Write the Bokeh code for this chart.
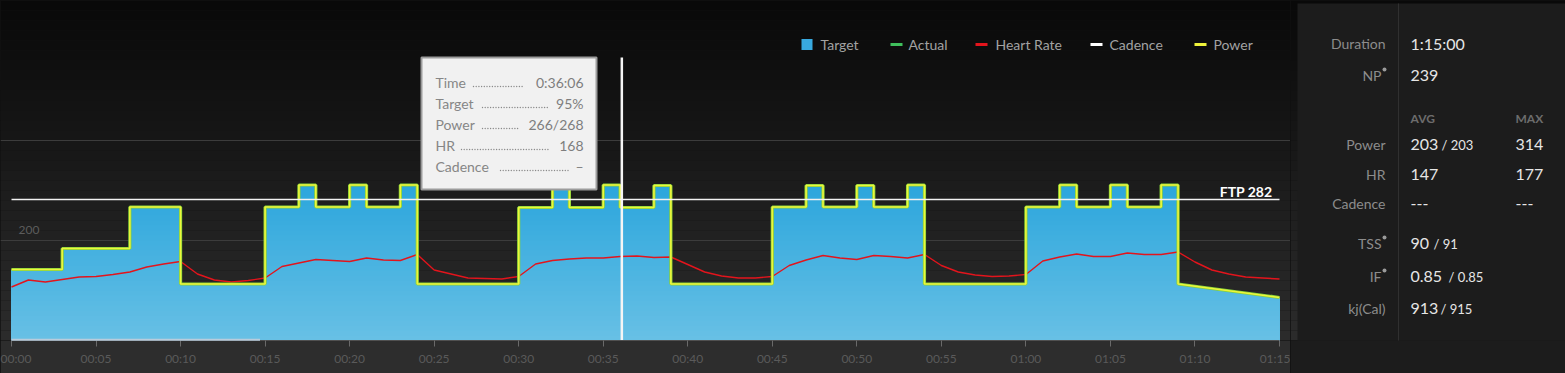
import numpy as np
from bokeh.plotting import figure
from bokeh.models import Range1d, FixedTicker, Grid
from bokeh.layouts import row
from bokeh.core.properties import value
from bokeh.embed import file_html
from bokeh.resources import INLINE

# ---------------- data ----------------
ftp = 282
seg_start = [0, 3, 7, 10,
             15, 17, 18, 20, 21, 23, 24,
             30, 32, 33, 35, 36, 38, 39,
             45, 47, 48, 50, 51, 53, 54,
             60, 62, 63, 65, 66, 68, 69]
seg_end = seg_start[1:] + [75]
target_pct_start = [50, 65, 95, 40,
                    95, 110, 95, 110, 95, 110, 40,
                    95, 110, 95, 110, 95, 110, 40,
                    95, 110, 95, 110, 95, 110, 40,
                    95, 110, 95, 110, 95, 110, 40]
target_pct_end = target_pct_start[:-1] + [30]
power_start = [142, 184, 267, 113,
               267, 311, 267, 311, 267, 311, 113,
               266, 310, 266, 311, 266, 310, 113,
               267, 310, 267, 310, 267, 311, 113,
               267, 311, 267, 311, 267, 311, 113]
power_end = power_start[:-1] + [86]
hr_time = list(range(76))
hr_bpm = [107, 121, 117, 122, 127, 128, 132, 137, 147, 153,
          158, 133, 121, 117, 120, 125, 148, 155, 162, 160,
          158, 165, 161, 160, 172, 141, 133, 125, 124, 123,
          128, 153, 160, 163, 165, 165, 168, 169, 166, 167,
          152, 137, 129, 125, 125, 128, 150, 161, 170, 165,
          162, 170, 168, 165, 172, 150, 137, 131, 128, 129,
          132, 159, 167, 173, 168, 168, 175, 172, 172, 177,
          157, 141, 133, 127, 125, 123]
tick_min = [0, 5, 10, 15, 20, 25, 30, 35, 40, 45, 50, 55, 60, 65, 70, 75]
tick_labels = ["00:00", "00:05", "00:10", "00:15", "00:20", "00:25", "00:30", "00:35",
               "00:40", "00:45", "00:50", "00:55", "01:00", "01:05", "01:10", "01:15"]
grid_watts = [200, 400]
progress_end = 14.7
cursor_time = 36.1
tip_names = ["Time", "Target", "Power", "HR", "Cadence"]
tip_values = ["0:36:06", "95%", "266/268", "168", "–"]
legend_names = ["Target", "Actual", "Heart Rate", "Cadence", "Power"]
legend_colors = ["#38a9df", "#3fbf5c", "#e3141c", "#ffffff", "#eef23a"]

stat_labels = ["Duration", "NP", "Power", "HR", "Cadence", "TSS", "IF", "kj(Cal)"]
stat_main = ["1:15:00", "239", "203", "147", "---", "90", "0.85", "913"]
stat_second = ["", "", "/ 203", "", "", "/ 91", "/ 0.85", "/ 915"]
stat_max = ["", "", "314", "177", "---", "", "", ""]
stat_dot = [False, True, False, False, False, True, True, False]

# ---------------- helpers (pixel -> data for decorations) ----------------
PPM = 1268 / 75.0


def X(px):
    return (px - 11) / PPM


def Y(py):
    return (340 - py) * 2.0


def lerp(c0, c1, f):
    a = [int(c0[i:i + 2], 16) for i in (1, 3, 5)]
    b = [int(c1[i:i + 2], 16) for i in (1, 3, 5)]
    return "#%02x%02x%02x" % tuple(int(round(a[k] + (b[k] - a[k]) * f)) for k in range(3))


FONT = value("Lato")

p = figure(width=1290, height=373, x_range=Range1d(X(0), X(1290)), y_range=Range1d(0, 680),
           output_backend="svg", toolbar_location=None, y_axis_location=None,
           x_axis_location="below", min_border_left=0, min_border_right=0,
           min_border_top=0, min_border_bottom=33, background_fill_color="#151515",
           border_fill_color="#2d2d2d", outline_line_color=None)
p.xgrid.visible = False
p.ygrid.visible = False

# background gradient
edges = np.arange(0, 341, 10)
bg_cols = [lerp("#080808", "#2c2c2c", (e + 5) / 340) for e in edges[:-1]]
p.quad(left=X(0), right=X(1290), top=[Y(e) for e in edges[:-1]],
       bottom=[Y(e) for e in edges[1:]], fill_color=bg_cols, line_color=None, level="image")

# grid
p.add_layout(Grid(dimension=1, ticker=FixedTicker(ticks=grid_watts), bounds=(0, 75),
                  grid_line_color="#3c3c3c", grid_line_width=1))

# target area (gradient bands)
tx, tw = [], []
for s, e, a, b in zip(seg_start, seg_end, target_pct_start, target_pct_end):
    tx.append(np.linspace(s, e, 30))
    tw.append(np.linspace(ftp * a / 100.0, ftp * b / 100.0, 30))
tx = np.concatenate(tx)
tw = np.round(np.concatenate(tw))
for hi in range(330, 0, -10):
    col = lerp("#68c0e5", "#29a5dc", min((hi - 5) / 320.0, 1.0))
    p.varea(x=tx, y1=0, y2=np.minimum(tw, hi), fill_color=col)

# heart rate
p.line(hr_time, hr_bpm, line_color="#e3141c", line_width=1.4)

# power line (actual + power)
px_, pw_ = [], []
for s, e, a, b in zip(seg_start, seg_end, power_start, power_end):
    px_ += [s, e]
    pw_ += [a, b]
p.line(px_, pw_, line_color="#86d23a", line_width=3.2)
p.line(px_, pw_, line_color="#eef53c", line_width=1.6)

# FTP line
p.segment(x0=[0], y0=[ftp], x1=[75], y1=[ftp], line_color="#f2f2f2", line_width=1.6)
p.text(x=[X(1272)], y=[Y(191)], text=["FTP %d" % ftp], text_font=FONT,
       text_font_style="bold", text_font_size="14px", text_color="#ffffff",
       text_align="right", text_baseline="middle")

# y label
p.text(x=[X(18)], y=[Y(229)], text=["200"], text_font=FONT, text_font_size="12px",
       text_color="#5c5c5c", text_align="left", text_baseline="middle")

# progress bar
p.segment(x0=[0], y0=[1.5], x1=[progress_end], y1=[1.5], line_color="#b9ccdc",
          line_width=2, level="overlay")

# x axis
ax = p.xaxis[0]
ax.ticker = FixedTicker(ticks=tick_min)
ax.major_label_overrides = {t: l for t, l in zip(tick_min, tick_labels)}
ax.bounds = (0, 75)
ax.axis_line_color = "#505050"
ax.major_tick_line_color = "#6a6a6a"
ax.major_tick_out = 6
ax.major_tick_in = 0
ax.minor_tick_line_color = None
ax.major_label_text_color = "#5a5a5a"
ax.major_label_text_font = "Lato"
ax.major_label_text_font_size = "12px"
ax.major_label_standoff = 4

# cursor
p.segment(x0=[cursor_time], y0=[0], x1=[cursor_time], y1=[Y(57)], line_color="#f5f5f5",
          line_width=2.5)

# tooltip
p.quad(left=[X(421)], right=[X(596)], top=[Y(57)], bottom=[Y(189)], fill_color="#f1f1f1",
       line_color="#9c9c9c", line_width=2)
row_y = [82, 103, 124, 145, 166]
dot_span = [(473, 524), (482, 548), (482, 519), (461, 549), (500, 568)]
p.text(x=[X(435)] * 5, y=[Y(v) for v in row_y], text=tip_names, text_font=FONT,
       text_font_size="14px", text_color="#868686", text_align="left", text_baseline="middle")
p.text(x=[X(583)] * 5, y=[Y(v) for v in row_y], text=tip_values, text_font=FONT,
       text_font_size="14px", text_color="#7e7e7e", text_align="right", text_baseline="middle")
dx, dy = [], []
for (a, b), ry in zip(dot_span, row_y):
    for qq in np.arange(a, b, 2.7):
        dx.append(X(qq))
        dy.append(Y(ry + 4))
p.scatter(dx, dy, marker="circle", size=1.4, fill_color="#8a8a8a", line_color=None)

# legend
leg_glyph_x = [801, 890, 975, 1090, 1194]
leg_text_x = [820, 908, 995, 1109, 1213]
p.scatter([X(806.5)], [Y(44)], marker="square", size=11, fill_color=legend_colors[0],
          line_color=None)
for gx, c in zip(leg_glyph_x[1:], legend_colors[1:]):
    p.segment(x0=[X(gx)], y0=[Y(44)], x1=[X(gx + 12)], y1=[Y(44)], line_color=c, line_width=3)
p.text(x=[X(v) for v in leg_text_x], y=[Y(44)] * 5, text=legend_names, text_font=FONT,
       text_font_size="14px", text_color="#a2a2a2", text_align="left", text_baseline="middle")

# ---------------- right panel ----------------
q = figure(width=275, height=373, x_range=Range1d(1290, 1565), y_range=Range1d(340, 0),
           output_backend="svg", toolbar_location=None, x_axis_location=None,
           y_axis_location=None, min_border_left=0, min_border_right=0, min_border_top=0,
           min_border_bottom=33, background_fill_color="#111111",
           border_fill_color="#1c1c1c", outline_line_color=None)
q.grid.visible = False
q.quad(left=1290, right=1565, top=list(edges[:-1]), bottom=list(edges[1:]),
       fill_color=bg_cols, line_color=None, level="image")
q.quad(left=[1297], right=[1565], top=[3], bottom=[370], fill_color="#1c1c1c",
       line_color=None)
q.segment(x0=[1398], y0=[3], x1=[1398], y1=[370], line_color="#303030", line_width=1)

stat_y = [43, 75, 144, 174, 203, 243, 276, 308]
lab_x = [1385 - (4 if d else 0) for d in stat_dot]
q.text(x=lab_x, y=stat_y, text=stat_labels, text_font=FONT, text_font_size="14px",
       text_color="#8c8c8c", text_align="right", text_baseline="middle")
q.scatter([1384 for d in stat_dot if d], [y - 6 for y, d in zip(stat_y, stat_dot) if d],
          marker="circle", size=4, fill_color="#9a9a9a", line_color=None)
q.text(x=[1410] * 8, y=stat_y, text=stat_main, text_font=FONT, text_font_size="16px",
       text_color="#e6e6e6", text_align="left", text_baseline="middle")
sec_x = [0, 0, 1441, 0, 0, 1433, 1448, 1440]
sx = [x for x, t in zip(sec_x, stat_second) if t]
sy = [y for y, t in zip(stat_y, stat_second) if t]
st = [t for t in stat_second if t]
q.text(x=sx, y=sy, text=st, text_font=FONT, text_font_size="13px", text_color="#e6e6e6",
       text_align="left", text_baseline="middle")
mx = [(y, t) for y, t in zip(stat_y, stat_max) if t]
q.text(x=[1515] * len(mx), y=[m[0] for m in mx], text=[m[1] for m in mx], text_font=FONT,
       text_font_size="16px", text_color="#e6e6e6", text_align="left", text_baseline="middle")
q.text(x=[1410, 1515], y=[118, 118], text=["AVG", "MAX"], text_font=FONT,
       text_font_style="bold", text_font_size="12px", text_color="#6c6c6c",
       text_align="left", text_baseline="middle")

layout = row(p, q)
html = file_html(layout, INLINE, title="Workout")
html = html.replace("</head>", "<style>html,body{margin:0;padding:0;background:#111111;overflow:hidden;}</style></head>", 1)
open("out.html", "w").write(html)
